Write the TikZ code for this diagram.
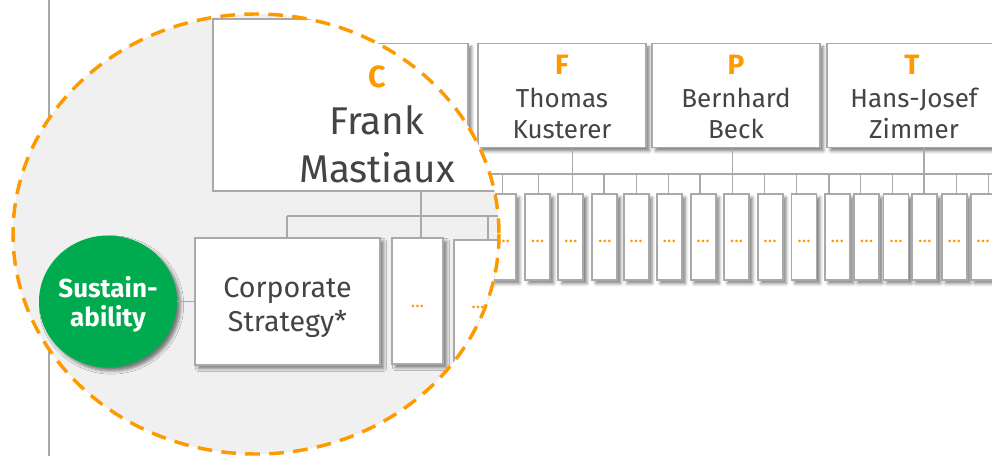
\documentclass[tikz,border=0pt]{standalone}
\usepackage{fontspec}
\setmainfont{Fira Sans}
\usetikzlibrary{shadows.blur,shapes.geometric}

\definecolor{accent}{HTML}{FF9900}
\definecolor{leafgreen}{HTML}{00AA4F}
\definecolor{ink}{HTML}{444444}
\definecolor{rule}{HTML}{A9A9A9}
\definecolor{lensfill}{HTML}{F0F0F0}

\begin{document}
\begin{tikzpicture}[x=0.75pt,y=-0.75pt,
  sz/.style 2 args={minimum width=#1*0.75pt, minimum height=#2*0.75pt},
  conn/.style={draw=rule, line width=1.1pt},
  softshadow/.style={blur shadow={shadow xshift=2.6pt, shadow yshift=-2.6pt,
      shadow blur radius=2.4pt, shadow opacity=50}},
  board/.style={rectangle, draw=rule, line width=1.4pt, fill=white,
      inner sep=0pt, outer sep=0pt, softshadow},
  slot/.style={board, sz={25}{86}, font=\fontsize{14}{14}\selectfont,
      text=accent, text height=9pt, text depth=0pt},
  lead/.style={font=\fontsize{21}{21}\selectfont\bfseries, text=accent, inner sep=0pt},
  person/.style={font=\fontsize{19.5}{19.5}\selectfont, text=ink, inner sep=0pt},
  bigperson/.style={font=\fontsize{29}{29}\selectfont, text=ink, inner sep=0pt},
  unitlabel/.style={font=\fontsize{21.5}{21.5}\selectfont, text=ink, inner sep=0pt},
  lensarea/.style={fill=lensfill},
  lensrim/.style={draw=accent, line width=2.6pt, dash pattern=on 11pt off 7pt}
]
\useasboundingbox (0,0) rectangle (992,456);

% ---------- vertical rule on the left ----------
\coordinate (railtop) at (49,0);
\coordinate (railbot) at (49,456);
\draw[conn] (railtop) -- (railbot);

% ---------- board members ----------
\node[board, sz={98}{104}]  (cSmall) at (419,95.5) {};
\node[board, sz={168}{104}] (fBox)   at (562,95.5) {};
\node[board, sz={168}{104}] (pBox)   at (736,95.5) {};
\node[board, sz={176}{104}] (tBox)   at (915,95.5) {};

\node[lead, anchor=base]   (fLet)  at (562,74.5) {F};
\node[person, anchor=base] (fN1)   at (562,107.5) {Thomas};
\node[person, anchor=base] (fN2)   at (562,138.5) {Kusterer};
\node[lead, anchor=base]   (pLet)  at (736,74.5) {P};
\node[person, anchor=base] (pN1)   at (736,107.5) {Bernhard};
\node[person, anchor=base] (pN2)   at (736,138.5) {Beck};
\node[lead, anchor=base]   (tLet)  at (912,74.5) {T};
\node[person, anchor=base] (tN1)   at (914,107.5) {Hans-Josef};
\node[person, anchor=base] (tN2)   at (914,138.5) {Zimmer};

% ---------- bus to the units ----------
\coordinate (busL) at (490,174);
\coordinate (busR) at (992,174);
\draw[conn] (busL) -- (busR);
\coordinate (fTap) at (572.5,174);
\coordinate (pTap) at (732.7,174);
\coordinate (tTap) at (924.2,174);
\draw[conn] (fTap |- fBox.south) -- (fTap);
\draw[conn] (pTap |- pBox.south) -- (pTap);
\draw[conn] (tTap |- tBox.south) -- (tTap);

% ---------- units ----------
\foreach \i/\l/\s in {1/491/502.4, 2/525.2/538.7, 3/558.4/572.7, 4/592.3/604.2,
    5/623.6/636.5, 6/656.8/668.7, 7/690.7/700.2, 8/724/732.5, 9/757.6/764.4,
    10/791.5/796.6, 11/824.8/828.8, 12/854/860.7, 13/883.5/892.6,
    14/912.3/924.2, 15/941.8/956.4, 16/970.7/988.3} {
  \node[slot] (u\i) at (\l+12.5,237) {...};
  \coordinate (j\i) at (\s,174);
  \draw[conn] (j\i) -- (j\i |- u\i.north);
}

% ---------- magnifying lens ----------
\fill[lensarea] (256,234) ellipse [x radius=243, y radius=220];
\begin{scope}
  \clip (256,234) ellipse [x radius=243, y radius=220];

  \node[rectangle, draw=rule, line width=1.4pt, fill=white, inner sep=0pt,
        outer sep=0pt, sz={328}{172}] (ceo) at (377,105) {};
  \node[lead, font=\fontsize{23}{23}\selectfont\bfseries, anchor=base] (cLet) at (377,88) {C};
  \node[bigperson, anchor=base] (cN1) at (377,135) {Frank};
  \node[bigperson, anchor=base] (cN2) at (377,182) {Mastiaux};

  \node[board, sz={185}{127}] (corp)  at (287.5,301.5) {};
  \node[unitlabel, anchor=base] (corp1) at (287.5,297) {Corporate};
  \node[unitlabel, anchor=base] (corp2) at (287.5,331) {Strategy*};
  \node[board, sz={51}{126}, font=\fontsize{14}{14}\selectfont, text=accent,
        text height=9pt, text depth=0pt] (dotsA) at (417.5,301) {...};
  \node[board, sz={48}{125}, font=\fontsize{14}{14}\selectfont, text=accent,
        text height=9pt, text depth=0pt] (dotsB) at (478,302.5) {...};

  \coordinate (hub)  at (421,216);
  \coordinate (armL) at (287,216);
  \coordinate (armR) at (530,216);
  \coordinate (armB) at (488,216);
  \draw[conn] (hub |- ceo.south) -- (hub);
  \draw[conn] (armL) -- (armR);
  \draw[conn] (armL) -- (armL |- corp.north);
  \draw[conn] (hub) -- (hub |- dotsA.north);
  \draw[conn] (armB) -- (armB |- dotsB.north);

  \node[ellipse, fill=leafgreen, inner sep=0pt, outer sep=0pt, sz={138}{132},
        softshadow] (green) at (108,301.5) {};
  \node[font=\fontsize{19.5}{19.5}\selectfont\bfseries, text=white, inner sep=0pt,
        anchor=base] (g1) at (108,297) {Sustain-};
  \node[font=\fontsize{19.5}{19.5}\selectfont\bfseries, text=white, inner sep=0pt,
        anchor=base] (g2) at (108,326) {ability};
  \draw[conn] (green.east) -- (corp.west);
\end{scope}
\draw[lensrim] (256,234) ellipse [x radius=243, y radius=220];
\end{tikzpicture}
\end{document}
